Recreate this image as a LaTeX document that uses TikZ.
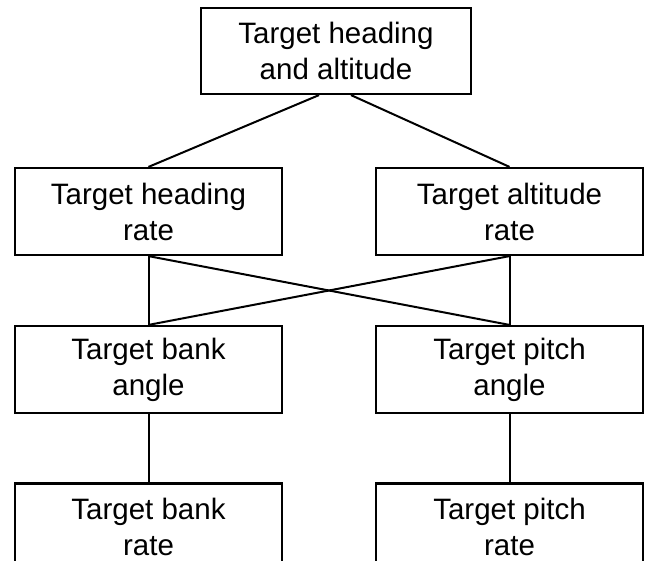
\documentclass[tikz,border=0pt]{standalone}
\usepackage{fontspec}
\setmainfont{Liberation Sans}
\begin{document}
\begin{tikzpicture}[x=1pt,y=-1pt,
  box/.style={draw, line width=2.2pt, rectangle, minimum width=267pt, minimum height=87pt,
    align=center, inner sep=0pt, font=\fontsize{29.5}{36}\selectfont},
  link/.style={line width=2pt}]
\useasboundingbox (0,0) rectangle (656,560);
\fill[white] (0,0) rectangle (656,560);
\node[box, minimum width=270pt, minimum height=86pt] (top) at (336,51) {Target heading\\and altitude};
\node[box] (hr) at (148.5,211.5) {Target heading\\rate};
\node[box] (ar) at (509.5,211.5) {Target altitude\\rate};
\node[box] (ba) at (148.5,369.5) {Target bank\\angle};
\node[box] (pa) at (509.5,369.5) {Target pitch\\angle};
\node[box] (br) at (148.5,527) {Target bank\\rate};
\node[box] (pr) at (509.5,527) {Target pitch\\rate};
\draw[link] ([xshift=-17pt]top.south) -- (hr.north);
\draw[link] ([xshift=15pt]top.south) -- (ar.north);
\draw[link] (hr.south) -- (ba.north);
\draw[link] (hr.south) -- (pa.north);
\draw[link] (ar.south) -- (pa.north);
\draw[link] (ar.south) -- (ba.north);
\draw[link] (ba.south) -- (br.north);
\draw[link] (pa.south) -- (pr.north);
\end{tikzpicture}
\end{document}
